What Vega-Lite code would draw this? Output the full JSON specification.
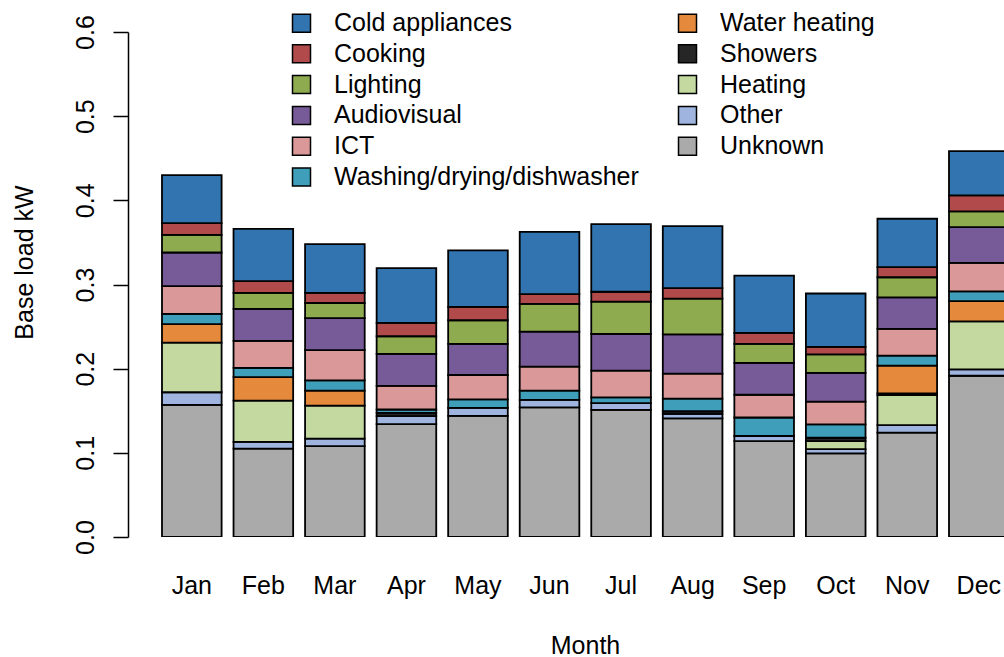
{
  "$schema": "https://vega.github.io/schema/vega-lite/v6.json",
  "autosize": "none",
  "width": 876,
  "height": 505,
  "padding": {"left": 128, "top": 32, "right": 0, "bottom": 120},
  "background": "white",
  "config": {
    "view": {"stroke": null},
    "font": "Liberation Sans",
    "axis": {"grid": false, "labelFont": "Liberation Sans", "titleFont": "Liberation Sans", "labelFontSize": 25, "titleFontSize": 25, "labelColor": "black", "titleColor": "black", "titleFontWeight": "normal"}
  },
  "datasets": {
    "categories": [
      {"category": "Unknown", "rank": 1},
      {"category": "Other", "rank": 2},
      {"category": "Heating", "rank": 3},
      {"category": "Showers", "rank": 4},
      {"category": "Water heating", "rank": 5},
      {"category": "Washing/drying/dishwasher", "rank": 6},
      {"category": "ICT", "rank": 7},
      {"category": "Audiovisual", "rank": 8},
      {"category": "Lighting", "rank": 9},
      {"category": "Cooking", "rank": 10},
      {"category": "Cold appliances", "rank": 11}
    ]
  },
  "data": {
    "values": [
      {"month": "Jan", "category": "Unknown", "kW": 0.157},
      {"month": "Jan", "category": "Other", "kW": 0.015},
      {"month": "Jan", "category": "Heating", "kW": 0.059},
      {"month": "Jan", "category": "Water heating", "kW": 0.022},
      {"month": "Jan", "category": "Washing/drying/dishwasher", "kW": 0.012},
      {"month": "Jan", "category": "ICT", "kW": 0.033},
      {"month": "Jan", "category": "Audiovisual", "kW": 0.040},
      {"month": "Jan", "category": "Lighting", "kW": 0.021},
      {"month": "Jan", "category": "Cooking", "kW": 0.014},
      {"month": "Jan", "category": "Cold appliances", "kW": 0.057},

      {"month": "Feb", "category": "Unknown", "kW": 0.105},
      {"month": "Feb", "category": "Other", "kW": 0.008},
      {"month": "Feb", "category": "Heating", "kW": 0.049},
      {"month": "Feb", "category": "Water heating", "kW": 0.028},
      {"month": "Feb", "category": "Washing/drying/dishwasher", "kW": 0.011},
      {"month": "Feb", "category": "ICT", "kW": 0.032},
      {"month": "Feb", "category": "Audiovisual", "kW": 0.038},
      {"month": "Feb", "category": "Lighting", "kW": 0.019},
      {"month": "Feb", "category": "Cooking", "kW": 0.014},
      {"month": "Feb", "category": "Cold appliances", "kW": 0.062},

      {"month": "Mar", "category": "Unknown", "kW": 0.108},
      {"month": "Mar", "category": "Other", "kW": 0.009},
      {"month": "Mar", "category": "Heating", "kW": 0.039},
      {"month": "Mar", "category": "Water heating", "kW": 0.018},
      {"month": "Mar", "category": "Washing/drying/dishwasher", "kW": 0.012},
      {"month": "Mar", "category": "ICT", "kW": 0.036},
      {"month": "Mar", "category": "Audiovisual", "kW": 0.038},
      {"month": "Mar", "category": "Lighting", "kW": 0.018},
      {"month": "Mar", "category": "Cooking", "kW": 0.012},
      {"month": "Mar", "category": "Cold appliances", "kW": 0.058},

      {"month": "Apr", "category": "Unknown", "kW": 0.134},
      {"month": "Apr", "category": "Other", "kW": 0.0095},
      {"month": "Apr", "category": "Showers", "kW": 0.004},
      {"month": "Apr", "category": "Washing/drying/dishwasher", "kW": 0.004},
      {"month": "Apr", "category": "ICT", "kW": 0.028},
      {"month": "Apr", "category": "Audiovisual", "kW": 0.038},
      {"month": "Apr", "category": "Lighting", "kW": 0.021},
      {"month": "Apr", "category": "Cooking", "kW": 0.016},
      {"month": "Apr", "category": "Cold appliances", "kW": 0.065},

      {"month": "May", "category": "Unknown", "kW": 0.144},
      {"month": "May", "category": "Other", "kW": 0.0095},
      {"month": "May", "category": "Washing/drying/dishwasher", "kW": 0.010},
      {"month": "May", "category": "ICT", "kW": 0.029},
      {"month": "May", "category": "Audiovisual", "kW": 0.037},
      {"month": "May", "category": "Lighting", "kW": 0.028},
      {"month": "May", "category": "Cooking", "kW": 0.016},
      {"month": "May", "category": "Cold appliances", "kW": 0.067},

      {"month": "Jun", "category": "Unknown", "kW": 0.154},
      {"month": "Jun", "category": "Other", "kW": 0.009},
      {"month": "Jun", "category": "Washing/drying/dishwasher", "kW": 0.011},
      {"month": "Jun", "category": "ICT", "kW": 0.0285},
      {"month": "Jun", "category": "Audiovisual", "kW": 0.0415},
      {"month": "Jun", "category": "Lighting", "kW": 0.033},
      {"month": "Jun", "category": "Cooking", "kW": 0.0115},
      {"month": "Jun", "category": "Cold appliances", "kW": 0.074},

      {"month": "Jul", "category": "Unknown", "kW": 0.151},
      {"month": "Jul", "category": "Other", "kW": 0.008},
      {"month": "Jul", "category": "Washing/drying/dishwasher", "kW": 0.007},
      {"month": "Jul", "category": "ICT", "kW": 0.0316},
      {"month": "Jul", "category": "Audiovisual", "kW": 0.0436},
      {"month": "Jul", "category": "Lighting", "kW": 0.0384},
      {"month": "Jul", "category": "Cooking", "kW": 0.0118},
      {"month": "Jul", "category": "Cold appliances", "kW": 0.0804},

      {"month": "Aug", "category": "Unknown", "kW": 0.141},
      {"month": "Aug", "category": "Other", "kW": 0.0054},
      {"month": "Aug", "category": "Showers", "kW": 0.003},
      {"month": "Aug", "category": "Washing/drying/dishwasher", "kW": 0.015},
      {"month": "Aug", "category": "ICT", "kW": 0.0297},
      {"month": "Aug", "category": "Audiovisual", "kW": 0.0467},
      {"month": "Aug", "category": "Lighting", "kW": 0.0424},
      {"month": "Aug", "category": "Cooking", "kW": 0.0126},
      {"month": "Aug", "category": "Cold appliances", "kW": 0.0736},

      {"month": "Sep", "category": "Unknown", "kW": 0.114},
      {"month": "Sep", "category": "Other", "kW": 0.006},
      {"month": "Sep", "category": "Washing/drying/dishwasher", "kW": 0.022},
      {"month": "Sep", "category": "ICT", "kW": 0.027},
      {"month": "Sep", "category": "Audiovisual", "kW": 0.038},
      {"month": "Sep", "category": "Lighting", "kW": 0.0225},
      {"month": "Sep", "category": "Cooking", "kW": 0.013},
      {"month": "Sep", "category": "Cold appliances", "kW": 0.068},

      {"month": "Oct", "category": "Unknown", "kW": 0.0994},
      {"month": "Oct", "category": "Other", "kW": 0.005},
      {"month": "Oct", "category": "Heating", "kW": 0.0095},
      {"month": "Oct", "category": "Showers", "kW": 0.004},
      {"month": "Oct", "category": "Washing/drying/dishwasher", "kW": 0.016},
      {"month": "Oct", "category": "ICT", "kW": 0.027},
      {"month": "Oct", "category": "Audiovisual", "kW": 0.034},
      {"month": "Oct", "category": "Lighting", "kW": 0.022},
      {"month": "Oct", "category": "Cooking", "kW": 0.009},
      {"month": "Oct", "category": "Cold appliances", "kW": 0.0634},

      {"month": "Nov", "category": "Unknown", "kW": 0.124},
      {"month": "Nov", "category": "Other", "kW": 0.009},
      {"month": "Nov", "category": "Heating", "kW": 0.0356},
      {"month": "Nov", "category": "Showers", "kW": 0.002},
      {"month": "Nov", "category": "Water heating", "kW": 0.033},
      {"month": "Nov", "category": "Washing/drying/dishwasher", "kW": 0.012},
      {"month": "Nov", "category": "ICT", "kW": 0.0317},
      {"month": "Nov", "category": "Audiovisual", "kW": 0.0375},
      {"month": "Nov", "category": "Lighting", "kW": 0.0238},
      {"month": "Nov", "category": "Cooking", "kW": 0.012},
      {"month": "Nov", "category": "Cold appliances", "kW": 0.0575},

      {"month": "Dec", "category": "Unknown", "kW": 0.1916},
      {"month": "Dec", "category": "Other", "kW": 0.0076},
      {"month": "Dec", "category": "Heating", "kW": 0.057},
      {"month": "Dec", "category": "Water heating", "kW": 0.024},
      {"month": "Dec", "category": "Washing/drying/dishwasher", "kW": 0.0116},
      {"month": "Dec", "category": "ICT", "kW": 0.034},
      {"month": "Dec", "category": "Audiovisual", "kW": 0.0423},
      {"month": "Dec", "category": "Lighting", "kW": 0.0187},
      {"month": "Dec", "category": "Cooking", "kW": 0.019},
      {"month": "Dec", "category": "Cold appliances", "kW": 0.0526}
    ]
  },
  "transform": [
    {"lookup": "category", "from": {"data": {"name": "categories"}, "key": "category", "fields": ["rank"]}}
  ],
  "mark": {"type": "bar", "stroke": "black", "strokeWidth": 1.8, "clip": true, "opacity": 1},
  "encoding": {
    "x": {
      "field": "month",
      "type": "nominal",
      "scale": {"domain": ["Jan", "Feb", "Mar", "Apr", "May", "Jun", "Jul", "Aug", "Sep", "Oct", "Nov", "Dec"], "range": [0, 914.6], "paddingInner": 0.1667, "paddingOuter": 0.475},
      "axis": {"title": "Month", "labelAngle": 0, "domain": false, "ticks": false, "labelPadding": 56, "labelBaseline": "alphabetic", "titleX": 457, "titleY": 116, "titleBaseline": "alphabetic", "titleAnchor": "start", "titleAlign": "center"}
    },
    "y": {
      "field": "kW",
      "type": "quantitative",
      "aggregate": "sum",
      "stack": "zero",
      "scale": {"domain": [0, 0.6], "nice": false, "zero": true},
      "axis": {"title": "Base load kW", "values": [0, 0.1, 0.2, 0.3, 0.4, 0.5, 0.6], "format": ".1f", "domainColor": "black", "domainWidth": 1.5, "tickColor": "black", "tickWidth": 1.5, "tickSize": 15, "labelAngle": 270, "labelAlign": "center", "labelBaseline": "alphabetic", "labelPadding": 20, "titleAngle": 270, "titleX": -96, "titleY": 230, "titleAlign": "center", "titleBaseline": "alphabetic", "titleAnchor": "start"}
    },
    "order": {"field": "rank", "type": "quantitative", "aggregate": "min", "sort": "ascending"},
    "color": {
      "field": "category",
      "type": "nominal",
      "sort": ["Cold appliances", "Cooking", "Lighting", "Audiovisual", "ICT", "Washing/drying/dishwasher", "Water heating", "Showers", "Heating", "Other", "Unknown"],
      "scale": {
        "range": ["#3174b0", "#b14a4a", "#8eab4f", "#775b98", "#da9898", "#3f9fba", "#e58a3c", "#262626", "#c3d9a0", "#9fb4de", "#aaaaaa"]
      },
      "legend": {
        "title": null,
        "orient": "none",
        "legendX": 161,
        "legendY": -21.5,
        "columns": 2,
        "columnPadding": 36,
        "rowPadding": 4.8,
        "padding": 0,
        "symbolType": "square",
        "symbolSize": 324,
        "symbolStrokeColor": "black",
        "symbolStrokeWidth": 1.5,
        "symbolOpacity": 1,
        "labelFont": "Liberation Sans",
        "labelFontSize": 25,
        "labelColor": "black",
        "labelOffset": 20,
        "labelLimit": 0
      }
    }
  }
}
